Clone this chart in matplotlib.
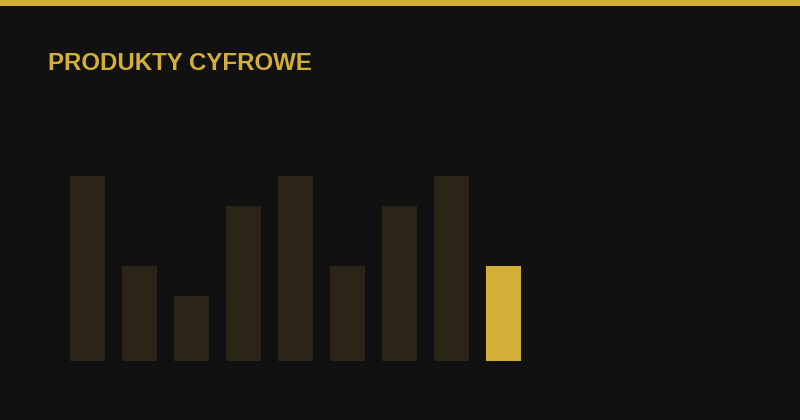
import matplotlib
matplotlib.use("Agg")
import matplotlib.pyplot as plt
from matplotlib.patches import Rectangle

# dane (wysokości słupków)
kategorie = ["1", "2", "3", "4", "5", "6", "7", "8", "9"]
wartosci = [185, 95, 65, 155, 185, 95, 155, 185, 95]
aktywny = 8

TLO = "#111111"
ZLOTY = "#D4AF37"
CIEMNY = "#2A2516"

W, H = 800, 420
fig = plt.figure(figsize=(W / 100, H / 100), dpi=100, facecolor=TLO)
ax = fig.add_axes([0, 0, 1, 1])
ax.set_facecolor(TLO)

krok = 52.0
x0 = 87.5
kolory = [ZLOTY if i == aktywny else CIEMNY for i in range(len(wartosci))]
ax.bar(range(len(wartosci)), wartosci, width=35 / krok, color=kolory, linewidth=0)

ax.set_xlim(-x0 / krok, (W - x0) / krok)
ax.set_ylim(-(H - 361), 361)
ax.axis("off")

# pasek u góry
fig.add_artist(Rectangle((0, 1 - 6 / H), 1, 6 / H, transform=fig.transFigure,
                         facecolor=ZLOTY, edgecolor="none"))

fig.text(48 / W, 1 - 70.5 / H, "PRODUKTY CYFROWE", color=ZLOTY, fontsize=17.3,
         fontweight="bold", family="Liberation Sans", va="baseline", ha="left")

fig.savefig("out.png", dpi=100, facecolor=TLO)
